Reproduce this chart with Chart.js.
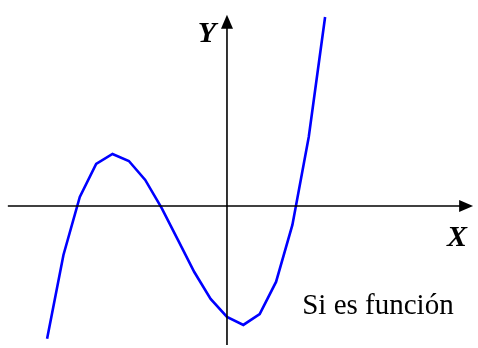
<!DOCTYPE html>
<html>
<head>
<meta charset="utf-8">
<script src="https://cdn.jsdelivr.net/npm/chart.js@4"></script>
<style>
  html, body { margin: 0; padding: 0; background: #fff; }
  canvas { display: block; }
</style>
</head>
<body>
<canvas id="chart" width="478" height="348"></canvas>
<script>
// curve sampled at whole x steps
const xValues = [-11, -10, -9, -8, -7, -6, -5, -4, -3, -2, -1, 0, 1, 2, 3, 4, 5, 6]
const yValues = [-8.13, -3.0, 0.55, 2.57, 3.18, 2.75, 1.59, -0.12, -2.08, -4.04, -5.69, -6.79, -7.28, -6.61, -4.65, -1.16, 4.22, 11.56]

const axisLabels = ['X', 'Y']
const note = 'Si es función'

const points = xValues.map((x, i) => ({ x: x, y: yValues[i] }))

// draws the two axes with arrows and the texts
const axesPlugin = {
    id: 'axes',
    afterDatasetsDraw(chart) {
        const ctx = chart.ctx
        const sx = chart.scales.x
        const sy = chart.scales.y
        const ox = sx.getPixelForValue(0)
        const oy = sy.getPixelForValue(0)

        ctx.save()
        ctx.strokeStyle = '#000'
        ctx.fillStyle = '#000'
        ctx.lineWidth = 1.6

        // x axis
        const xStart = sx.getPixelForValue(-13.4)
        const xEnd = sx.getPixelForValue(15.05)
        ctx.beginPath()
        ctx.moveTo(xStart, oy)
        ctx.lineTo(xEnd - 10, oy)
        ctx.stroke()
        ctx.beginPath()
        ctx.moveTo(xEnd, oy)
        ctx.lineTo(xEnd - 14, oy - 6)
        ctx.lineTo(xEnd - 14, oy + 6)
        ctx.closePath()
        ctx.fill()

        // y axis
        const yTop = sy.getPixelForValue(11.7)
        const yBottom = sy.getPixelForValue(-8.5)
        ctx.beginPath()
        ctx.moveTo(ox, yBottom)
        ctx.lineTo(ox, yTop + 10)
        ctx.stroke()
        ctx.beginPath()
        ctx.moveTo(ox, yTop)
        ctx.lineTo(ox - 6, yTop + 14)
        ctx.lineTo(ox + 6, yTop + 14)
        ctx.closePath()
        ctx.fill()

        ctx.font = 'italic bold 30px "Liberation Serif", serif'
        ctx.textBaseline = 'alphabetic'
        ctx.textAlign = 'left'
        ctx.fillText(axisLabels[0], xEnd - 26, oy + 40)
        ctx.textAlign = 'right'
        ctx.fillText(axisLabels[1], ox - 11, yTop + 27)

        ctx.font = '29px "Liberation Serif", serif'
        ctx.textAlign = 'left'
        ctx.fillText(note, sx.getPixelForValue(4.6), sy.getPixelForValue(-6.6))
        ctx.restore()
    }
}

const ctx = document.getElementById('chart').getContext('2d')
const chart = new Chart(ctx, {
    type: 'line',
    data: {
        datasets: [{
            data: points,
            borderColor: '#0000ff',
            borderWidth: 2.6,
            pointRadius: 0,
            tension: 0,
            fill: false
        }]
    },
    options: {
        responsive: false,
        animation: false,
        devicePixelRatio: 1,
        layout: { padding: 0 },
        plugins: {
            legend: { display: false },
            tooltip: { enabled: false }
        },
        scales: {
            x: { type: 'linear', display: false, min: -13.88, max: 15.35 },
            y: { type: 'linear', display: false, min: -8.69, max: 12.6 }
        }
    },
    plugins: [axesPlugin]
})
</script>
</body>
</html>
